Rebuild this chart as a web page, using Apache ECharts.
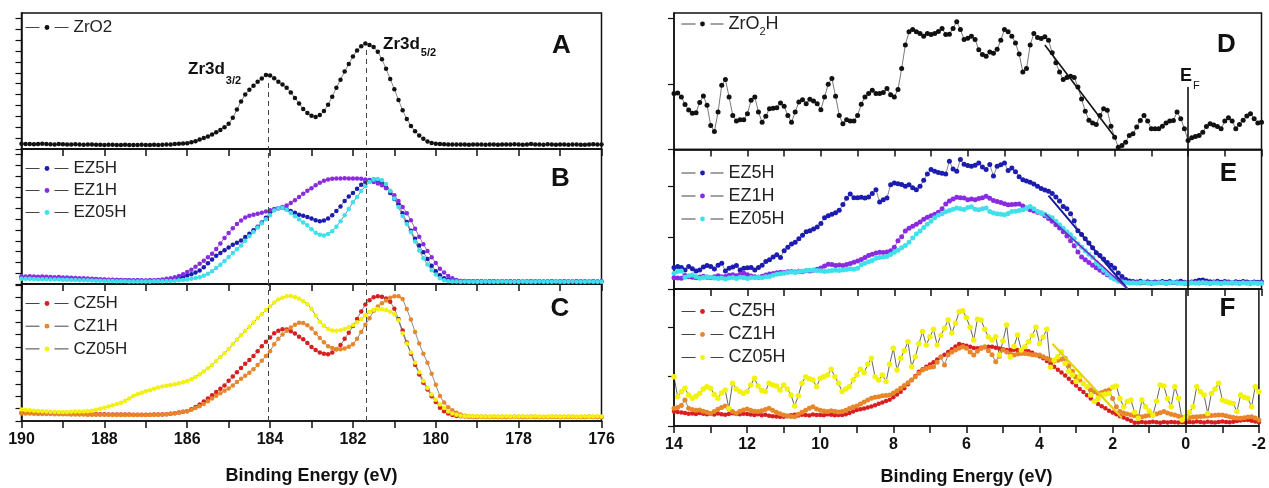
<!DOCTYPE html>
<html><head><meta charset="utf-8">
<script src="https://cdn.jsdelivr.net/npm/echarts@6/dist/echarts.min.js"></script>
<style>html,body{margin:0;padding:0;background:#fff}#c{width:1269px;height:488px}</style>
</head><body><div id="c"></div>
<script>
// ---------- sampling grids ----------
const leftStart = 190;   // left column: 190.0 -> 176.0 eV, 0.1 eV step (141 pts)
const rightStart = 14;   // right column: 14.0 -> -2.0 eV, 0.1 eV step (161 pts)
const step = 0.1;
const leftTickLabels = [190,188,186,184,182,180,178,176];
const rightTickLabels = [14,12,10,8,6,4,2,0,-2];

// ---------- panel A : Zr3d, ZrO2 ----------
const zro2 = [3.8,3.6,3.7,3.5,3.6,3.8,3.6,3.5,3.4,3.6,
 3.5,3.3,3.4,3.5,3.3,3.2,3.4,3.3,3.1,3.2,
 3.0,3.2,3.1,3.0,2.9,3.1,3.0,2.9,3.0,3.1,
 2.9,3.0,3.1,3.0,3.2,3.3,3.4,3.6,3.8,4.0,
 4.3,4.9,5.7,7.0,8.0,9.2,10.6,12.3,14.0,16.0,
 18.5,23,29,35,40,43.5,46.5,49.5,51.8,54.5,
 54,52,49.5,47.5,45,41.5,37.5,33.5,29.5,26.5,
 24.5,23.5,25,28,32.5,38.5,45,51,57,62.5,
 68,72.5,75.5,77.5,76.5,75,71.5,66,59,51.5,
 44,36,28.5,22,17,13,10,7.5,5.5,4.5,
 3.8,3.6,3.5,3.4,3.4,3.3,3.4,3.3,3.2,3.3,
 3.4,3.3,3.2,3.4,3.3,3.2,3.3,3.4,3.3,3.5,
 3.3,3.2,3.4,3.6,3.4,3.3,3.2,3.5,3.3,3.2,
 3.4,3.3,3.2,3.3,3.4,3.2,3.1,3.3,3.5,3.4,
 3.3];

// ---------- panel B ----------
const ez5hL = [4.5,4.4,4.3,4.4,4.2,4.1,4.2,4.0,3.9,4.0,
 3.8,3.7,3.8,3.6,3.5,3.6,3.4,3.3,3.4,3.2,
 3.1,3.0,2.9,3.0,2.8,2.7,2.8,2.6,2.7,2.6,
 2.5,2.6,2.5,2.7,2.8,3.0,3.3,3.8,4.4,5.2,
 6.3,7.3,8.5,10,12.5,15.3,18.2,21,23,25,
 27,29,30.5,32.3,34.8,37.3,39.8,42.5,45.5,49,
 53.4,55,56.2,56.4,55.4,54,52.8,51.3,50.5,49.7,
 48.5,47.2,46.5,47,48.5,51,54,57.5,61.5,64.8,
 67.5,70.5,73.5,75.7,77,77.5,76.5,74.5,71.5,67.5,
 63,59,52.5,46,39.5,33.6,28.5,23.6,18.5,13.5,
 9.5,6.5,4.2,3.2,2.7,2.4,2.3,2.2,2.1,2.1,
 2.0,2.1,1.9,2.0,2.1,1.9,2.0,1.8,2.0,1.9,
 2.0,1.9,1.8,2.0,1.9,2.1,1.9,1.8,2.0,1.9,
 1.8,2.0,1.9,1.8,2.0,1.9,1.8,1.9,2.0,1.8,
 1.9];
const ez1hL = [5.8,5.6,5.7,5.5,5.4,5.5,5.3,5.2,5.0,5.1,
 4.9,4.8,4.6,4.5,4.3,4.2,4.0,3.8,3.7,3.5,
 3.4,3.2,3.1,3.0,2.9,2.8,2.7,2.6,2.7,2.6,
 2.6,2.7,2.8,3.0,3.3,3.8,4.3,5.0,6.0,7.3,
 8.8,10.5,12.7,15,17.3,19.8,22.5,26,30,34,
 37.8,41.3,44.5,47,49.2,50.5,51.3,52,52.8,53.7,
 54.6,55.5,56.2,57,58.2,60,62,64.5,66.8,69,
 71,73.2,75,76.5,77.5,78,78.2,78.2,78.3,78.2,
 78.2,78.2,78,77.5,76.8,75.5,74.5,73.2,71,68.5,
 65.8,61.5,57,52.5,47.2,41,35,29.5,24.5,19.8,
 15.5,11.3,8.5,6,4.3,3.0,2.2,1.9,1.8,1.8,
 1.7,1.8,1.9,1.7,1.8,1.7,1.9,1.8,1.7,1.8,
 1.9,1.7,1.8,1.7,1.9,1.8,1.7,1.8,1.9,1.7,
 1.8,1.7,1.9,1.8,1.7,1.8,1.9,1.7,1.8,1.7,
 1.8];
const ez05hL = [3.9,3.8,3.8,3.7,3.6,3.6,3.5,3.4,3.4,3.3,
 3.2,3.1,3.0,2.9,2.8,2.8,2.7,2.6,2.5,2.4,
 2.3,2.2,2.2,2.1,2.0,2.0,1.9,1.9,1.9,1.9,
 1.9,1.9,2.0,2.0,2.1,2.2,2.3,2.5,2.7,3.0,
 3.4,3.8,4.4,5,6.2,7.6,9.4,11.8,14.3,17,
 20,23,25.8,28.6,32,35.3,38.5,41.8,45,48,
 51,54.5,56.2,56.4,55,52.8,50.2,47.8,45.5,43.5,
 40.5,38,36.5,36,37,39,42.5,46.5,51,55.5,
 60.5,64.5,68.8,72.5,75.5,77.5,77.8,76.8,74,69,
 63.3,57,50.3,44.5,38.5,31.5,24.8,19,14.5,10.2,
 7,4.2,2.8,2.2,1.9,1.8,1.7,1.8,1.7,1.6,
 1.7,1.6,1.8,1.7,1.6,1.7,1.8,1.6,1.7,1.6,
 1.7,1.8,1.6,1.7,1.6,1.8,1.7,1.6,1.7,1.8,
 1.6,1.7,1.6,1.8,1.7,1.6,1.7,1.8,1.6,1.7,
 1.7];

// ---------- panel C ----------
const cz5hL = [6,5.9,5.8,5.8,5.7,5.6,5.6,5.5,5.5,5.4,
 5.3,5.3,5.2,5.2,5.1,5.1,5.0,5.0,4.9,4.9,
 4.9,4.8,4.8,4.8,4.7,4.7,4.7,4.6,4.6,4.6,
 4.6,4.6,4.7,4.7,4.8,5.0,5.3,5.7,6.2,6.7,
 7.2,8.5,10.2,12,14.2,16.5,18.8,21.2,23.5,26,
 29.3,32.5,35.5,38.6,41.7,44.5,47.5,51,54.5,57.8,
 61,64,65.8,67,66.7,65.5,63.8,61.5,59.7,57,
 54,51.8,50,49,48.7,50,52.4,55.5,60,64.5,
 69.3,74.5,80,85,88.2,90.3,91,90.7,89.5,87,
 82,74.4,66,57.3,49,41,34,28,23,18,
 13.8,9.7,7.2,5.4,4.3,3.7,3.4,3.2,3.1,3.0,
 3.0,3.1,2.9,3.0,3.1,2.9,3.0,3.0,2.9,3.1,
 3.0,2.9,3.0,3.1,2.9,3.0,2.9,3.0,3.1,3.0,
 2.9,3.0,3.1,2.9,3.0,3.0,2.9,3.1,3.0,2.9,
 3.0];
const cz1hL = [5.5,5.4,5.4,5.3,5.2,5.2,5.1,5.1,5.0,5.0,
 4.9,4.9,4.8,4.8,4.7,4.7,4.6,4.6,4.6,4.5,
 4.5,4.5,4.4,4.4,4.4,4.3,4.3,4.3,4.3,4.3,
 4.3,4.4,4.5,4.6,4.8,5.0,5.3,5.7,6.2,6.7,
 7.2,8.2,9.4,10.8,12.5,14.4,16.4,18.4,20.3,22,
 23.8,26,28.4,30.8,33,35.3,37.7,40.8,44,47.5,
 51,56,60,63.2,65.8,68.3,70.3,71.8,71.5,69.8,
 67.5,64,60.5,57.5,54.5,53.2,52.6,52.4,53,54.2,
 56,60,65,70.3,75,80.4,83.5,86,88,90,
 91,91,89,81.7,74,65,56.5,49,42.6,34.5,
 26.5,18.2,13.5,10,7.8,6,4.8,3.9,3.4,3.2,
 3.1,3.0,3.1,3.0,2.9,3.0,3.1,3.0,2.9,3.0,
 3.1,3.0,2.9,3.0,3.1,3.0,2.9,3.0,3.0,3.1,
 3.0,2.9,3.0,3.1,3.0,2.9,3.0,3.1,3.0,2.9,
 3.0];
const cz05hL = [8.4,8.0,7.8,7.5,7.3,7.1,7.0,6.8,6.7,6.6,
 6.5,6.6,6.8,7.0,7.0,6.9,7.1,7.5,8.2,8.9,
 9.7,10.5,11.5,12.4,13.3,14.8,16.5,18.2,19.5,20.7,
 21.7,22.5,23.5,24.5,25.2,25.8,26.3,26.8,27.5,28.3,
 29.2,30.5,32.2,34,36.2,38.5,40.8,43.8,46.8,49.5,
 52.5,56,59.5,62.7,65.8,68.8,71.9,75,78,81,
 83.5,86.5,88.6,90,91,91.2,90.6,89.2,87.5,85.3,
 82,77,72.5,69.5,67.2,66,65.8,66.3,67.2,68.5,
 70,72,74.5,77.2,79.5,81.2,81.7,81.6,81,79.8,
 78,73.5,64,56.5,50,42.5,35.5,29.2,24,19.4,
 15.5,12,9.4,7,5.4,4.5,3.9,3.5,3.4,3.3,
 3.4,3.3,3.2,3.3,3.4,3.2,3.3,3.4,3.3,3.2,
 3.3,3.4,3.2,3.3,3.4,3.3,3.2,3.3,3.4,3.3,
 3.2,3.3,3.4,3.3,3.2,3.3,3.4,3.2,3.3,3.4,
 3.3];

// ---------- panel D : valence band, ZrO2H ----------
const zro2h = [41,41.4,38.5,33,29,26.5,27,34.5,39.2,32.4,
 17.6,13.2,27.4,47,51.2,38.5,25,20.8,21.8,21.8,
 26.2,36,38.5,27.4,20,24.3,29.9,30.2,30.6,34,
 31.6,25,20,27.4,34.8,36.5,33.6,36.8,35.5,33.6,
 29.2,38.5,47.8,52,39,25,18.9,21.8,20.8,20.8,
 25,33.1,38.5,41,43.4,41,41,41.7,44.6,40.2,
 38.5,43.9,59.3,76.5,86.3,88,86.3,85,83,85,
 84.3,85,86.5,88.7,84.3,84.5,88.7,93.6,88,80.6,
 81.5,83,80.5,73,69.6,68.4,71.5,70.5,73.5,80,
 88,86.3,83,78,69.9,56.8,59.3,76.5,85,82.1,
 81.4,82.6,80.1,70.8,63.5,56.8,51.2,52.7,53.7,52.7,
 45.8,37,28,21.5,19.5,18.4,25,29.9,28.7,17,
 9,1.7,2.9,5.4,10.3,11.5,16.4,21.3,25,20.8,
 15.2,15.2,15.2,17,19.4,20.8,21.3,27.4,22.6,15.2,
 6.6,8.6,9.6,10.3,12.7,16.9,18.9,17.9,16.9,15.2,
 20.8,23.3,20.8,15.2,18.4,21.5,24.5,26.2,22.6,19.4,
 20];
const fitD = [[3.9,76.5],[1.95,7.5]];

// ---------- panel E ----------
const ez5hR = [15.4,16.2,15.5,13.7,16.1,14.5,12.9,13.7,15.8,16.8,
 16.1,14.4,17,18.5,12.9,14.9,15.8,16.8,13.7,14.9,
 15.2,15.4,13.7,15.5,17,19.7,20.9,23,24.5,22.6,
 27.5,30,32.2,33.6,36,38.5,41,41.7,43,44.5,
 47,51,52.5,53.5,54.6,56.5,60.5,65,68.1,65.5,
 65.5,65.7,65.2,66,68.5,71.2,62.4,64,65.2,74.8,
 76,75.5,75,73.6,74.8,72.5,71.2,73.6,78,82.5,
 85.6,84.4,83.5,83,82.5,91.6,86,84.4,92.8,89.5,
 88.5,88,88.7,90.4,87.5,85.6,89.2,81,88,89,
 90.4,84.9,86.8,84,80.5,78.4,77.5,76.5,75.3,73.6,
 72,71,70,68.5,66,63,59.2,57.5,54,49,
 41.7,39,36,33,29.5,26,24,21.5,19,17,
 15,11.5,9,6.8,5.8,5.3,5.0,5.5,4.8,5.2,
 4.6,5.1,4.7,5.4,4.9,5.3,4.6,5.0,5.5,4.8,
 4.5,5.0,5.6,6.2,6.5,5.8,5.2,5.0,5.5,4.8,
 5.3,5.0,4.6,5.2,4.8,5.4,5.0,4.7,5.1,4.8,
 5.0];
const ez1hR = [8.1,7.9,7.7,9.6,8.8,8.5,8.0,8.6,9.2,8.4,
 8.0,8.8,9.5,8.7,9.0,9.8,10.2,9.5,10.5,11.3,
 10.2,9.4,8.8,8.5,9.2,10,10.8,11.2,11.7,12,
 11.8,12.3,12.5,12.2,12.8,12.4,13,12.9,13.5,14.2,
 15,16.5,17.8,17.5,16.8,17.2,16.8,17.5,18.3,19.2,
 20,21.2,22.5,24,25,25.8,26.4,26.2,26.6,27.5,
 30,34.5,37.5,41.5,43.5,45,46.5,48,50,51.5,
 52.5,53.5,55,57.5,61,63,64.5,65.7,65.5,65.2,
 64,64.5,64,64.8,65.5,66.4,65,63.5,62.8,62,
 61.2,60.4,60.5,60.8,60.9,59.5,58,56.8,56,55,
 54.4,52.5,50.5,48.5,46,43.7,41,38,34.5,31,
 26.5,23,21,19,17,15.2,13.5,11.8,10.2,8.6,
 7.3,6.2,5.6,5.0,4.8,4.5,4.6,4.3,4.7,4.4,
 4.2,4.6,4.8,4.4,4.2,4.5,4.7,4.3,4.5,4.2,
 4.0,4.4,4.6,4.3,4.8,4.5,4.2,4.6,4.4,4.1,
 4.5,4.7,4.3,4.5,4.2,4.6,4.4,4.1,4.5,4.3,
 4.4];
const ez05hR = [11.3,12.5,12.9,8.5,9.5,10.1,8.8,7.7,8.2,8.7,
 8.5,7.8,7.5,7.9,7.2,7.8,8.2,7.6,8.5,8.0,
 7.6,8.3,8.1,8.6,8.0,8.7,9.0,9.8,10.5,11,
 11.3,11.8,12.2,11.9,12.5,12.8,13.2,13.5,13.7,13.2,
 13,12.6,12.9,13.3,13.5,13.2,13.7,14,14.5,14.2,
 14.9,17.3,18.5,19.5,20.5,22.1,22.5,23,23.3,24.8,
 26.3,27.8,29.5,31.2,33.5,36.5,39.4,41.5,44,46.5,
 48.5,51,52.8,54,55.4,56.3,57.2,58,57.5,57,
 58.5,59,57.2,56.8,57.5,58,55.5,54.4,54,53.5,
 53.2,54.2,55.6,55.8,56.2,56.8,57.8,59.2,57.5,55.5,
 54.4,53.5,52.2,51,48.5,46,43.5,41,38.8,36,
 32.5,30,27.5,25,22.5,19,16.1,13.5,11,8.5,
 7,5.6,5.0,4.6,4.3,4.5,4.2,4.6,4.8,4.3,
 4.5,4.1,4.4,4.6,4.2,4.5,4.8,4.4,4.1,4.3,
 4.1,4.5,4.2,4.4,4.7,4.3,4.1,4.5,4.3,4.0,
 4.4,4.2,4.6,4.3,4.1,4.4,4.2,4.5,4.3,4.1,
 4.2];
const fitE5 = [[3.8,67],[1.65,0]];
const fitE1 = [[3.9,54],[1.65,0]];

// ---------- panel F ----------
const cz5hR = [10.5,10.2,9.8,9.4,9.0,9.2,8.8,9.5,9.0,8.6,
 8.9,8.4,9.1,8.6,8.2,8.8,9.3,8.7,8.5,9.0,
 8.8,8.4,8.0,8.6,7.8,8.2,7.5,7.2,7.0,6.8,
 6.8,7.2,7.8,8.2,7.6,8.3,8.0,7.7,8.4,8.1,
 8.0,7.8,8.5,8.2,7.9,8.1,8.0,8.6,9.5,10.5,
 11.7,12.2,12.8,13.5,14.3,15.2,16.2,17.2,18.2,19.2,
 21,23,25,27.5,30.5,33.5,36.5,39.6,41.5,43.2,
 44.8,46.5,48.6,50.5,52,54,56,58,59.9,59.1,
 58.5,57.8,57,56.7,57.2,57.5,57.9,57.8,57.2,56.5,
 56,55.5,55.4,55.6,55.5,55.5,55.3,54.5,53.5,52,
 51,49.5,47.5,45.5,43.3,41,39,36.8,34.5,32,
 29.5,27,24.8,22.5,20,17.8,16,14.5,13,11.2,
 9.8,8.5,7.2,6.2,5,3.8,2.4,2.6,2.9,2.5,
 2.8,3.1,2.7,2.4,2.9,2.6,3.0,2.7,2.5,2.8,
 2.6,3.0,2.7,3.2,2.9,2.6,3.1,2.8,2.5,2.9,
 3.3,3.0,2.7,3.1,3.6,4.0,4.3,4.4,3.8,3.2,
 2.8];
const cz1hR = [12.9,13.5,15,19,12.9,12,11.5,11.7,10.8,10,
 9.2,10.5,12.2,13.5,14.6,12.5,10.5,9.2,10.8,11.6,
 12.4,11.5,10.8,10.5,11.2,12,12.9,11.5,10,9,
 8,7.5,7,6.8,8.5,10,11.5,13,14.1,12.5,
 11.5,11,10.5,11.2,10.8,10.2,10.5,11.5,12.8,13.8,
 14.6,16,17.5,19,20.2,21,21.4,22,22.3,22.6,
 24,25.8,27.5,29.5,31.5,33.6,36,38.5,40.9,42,
 42.8,43.3,46.5,50.1,44.5,52,54,55.5,56.8,57.9,
 56.7,54,51.8,54.5,56.5,57.9,55,52,46.9,51,
 55.5,54,52.5,51.8,52.5,53,53,52.5,52,51.8,
 51.8,50.5,49.2,48.2,47.5,48,48.8,49.4,44,40,
 36,33.5,31,28.7,26.5,25,23.8,24.5,25.5,26.3,
 20,14,10.5,9.5,8.8,8,7.5,7.0,6.8,7.3,
 7.8,8,8.8,9.6,10.5,9.5,8.6,8,7.2,6.3,
 5.6,6.0,6.5,6.8,7.0,7.2,7.3,7.6,7.8,8.0,
 8.0,7.4,6.8,6.2,5.9,5.6,6.0,6.5,6.8,5.8,
 4.4];
const cz05hR = [36,21.4,25,27.5,22.6,20.2,21.8,23.8,27,28.7,
 27.5,23,20.2,24,26.3,12.9,31.2,27,25.1,23.8,
 25.1,30,34.8,29.2,26,25.1,31.2,30,29.2,26.3,
 30,27,22.6,14.6,22,31.2,36,34.5,33.6,28.7,
 34.8,36,37.2,41.4,36,31.2,25.1,27,28.7,33.6,
 37.2,41.4,38.9,45,49.4,36,33.6,37.2,32.4,45,
 56.7,40.9,49.4,55,61.5,43.3,50.6,60,68.9,59.1,
 65.2,70.6,59.1,66,71.3,77.4,67.9,75,83.4,84.2,
 79,72,62.8,78,77.4,70.6,65,62.8,65.2,51.8,
 62,73.7,50.6,58,66.4,55.5,57.9,61.5,66,72,
 60.3,65,70.6,42.8,48,50.6,54.2,45.7,40,37.2,
 32.4,36,31,28.7,22.6,17.8,20,22.6,23.2,23.8,
 28.2,29.2,20,14.1,17.8,19,10,5.6,19,14.1,
 11,8,18,29.9,29.2,20,14.1,28.7,20.2,4.4,
 6.8,10,14.1,28.7,25,22.6,9.2,23.8,27,31.2,
 19,17.8,17,16.5,10.5,22.6,21,20.2,14.1,28.7,
 25];
const fitF = [[3.65,60],[1.75,6]];

// reference lines
const zrPeaks = [184.05, 181.68];     // Zr3d3/2, Zr3d5/2
const zrPeakTops = [48.5, 72.8];
const fermi = 0;

// ---------- layout ----------
const FONT = '"Liberation Sans", Arial, sans-serif';
const grids = [
  {left:21.5, top:13, width:580, height:136},
  {left:21.5, top:149, width:580, height:135},
  {left:21.5, top:284, width:580, height:137},
  {left:674, top:13, width:587.5, height:136.5},
  {left:674, top:149.5, width:587.5, height:139.5},
  {left:674, top:289, width:587.5, height:137}
];
const yTickStep = [8, 8, 9, 48, 37, 36];

function ticks(st){ const a=[]; for(let v=0; v<100-0.01; v+=st) a.push(v); return a; }

function pairs(start, vals){ return vals.map((v,k)=>[Math.round((start - k*step)*10)/10, v]); }

function mk(name, vals, start, gi, color, size, lw, lc){
  return {type:'line', name, xAxisIndex:gi, yAxisIndex:gi, data:pairs(start, vals),
    symbol:'circle', symbolSize:size, showSymbol:true, itemStyle:{color},
    lineStyle:{color:lc||'#3a3a3a', width:lw||0.6}, emphasis:{disabled:true},
    animation:false, silent:true};
}
function fit(name, pts, gi, color, w){
  return {type:'line', name, xAxisIndex:gi, yAxisIndex:gi, data:pts, symbol:'none',
    lineStyle:{color, width:w}, z:5, silent:true, animation:false};
}
const dashML = {silent:true, symbol:'none', animation:false, label:{show:false},
  lineStyle:{type:[5,4], color:'#444', width:1}};
const fermiML = {silent:true, symbol:'none', animation:false, label:{show:false},
  lineStyle:{type:'solid', color:'#111', width:1.6}};

const C = {zr:'#111111', e5:'#1c1cb0', e1:'#8a2be2', e05:'#3fe0ea', c5:'#d81e1e', c1:'#e8862a', c05:'#f2f20a'};

const sA = mk('ZrO2', zro2, leftStart, 0, C.zr, 4.5);
sA.markLine = Object.assign({}, dashML, {data: zrPeaks.map((x,k)=>[{coord:[x, zrPeakTops[k]]},{coord:[x,0]}])});
const sB = mk('EZ5H', ez5hL, leftStart, 1, C.e5, 4.5);
sB.markLine = Object.assign({}, dashML, {data: zrPeaks.map(x=>({xAxis:x}))});
const sC = mk('CZ5H', cz5hL, leftStart, 2, C.c5, 4.5);
sC.markLine = Object.assign({}, dashML, {data: zrPeaks.map(x=>({xAxis:x}))});
const sD = mk('ZrO2H', zro2h, rightStart, 3, C.zr, 5, 0.8, '#555');
sD.markLine = Object.assign({}, fermiML, {data:[[{coord:[fermi,45.8]},{coord:[fermi,0]}]]});
const sE = mk('EZ5H', ez5hR, rightStart, 4, C.e5, 5);
sE.markLine = Object.assign({}, fermiML, {data:[{xAxis:fermi}]});
const sF = mk('CZ5H', cz5hR, rightStart, 5, C.c5, 4.5);
sF.markLine = Object.assign({}, fermiML, {data:[{xAxis:fermi}]});

const series = [
  sA,
  sB, mk('EZ1H', ez1hL, leftStart, 1, C.e1, 4.5), mk('EZ05H', ez05hL, leftStart, 1, C.e05, 4.5),
  sC, mk('CZ1H', cz1hL, leftStart, 2, C.c1, 4.5), mk('CZ05H', cz05hL, leftStart, 2, C.c05, 4.5),
  sD, fit('fitD', fitD, 3, '#111', 1.6),
  sE, mk('EZ1H', ez1hR, rightStart, 4, C.e1, 5), mk('EZ05H', ez05hR, rightStart, 4, C.e05, 5),
  fit('fitE5', fitE5, 4, '#1c1c9a', 2), fit('fitE1', fitE1, 4, '#7a22c8', 1.6),
  sF, mk('CZ1H', cz1hR, rightStart, 5, C.c1, 5), mk('CZ05H', cz05hR, rightStart, 5, C.c05, 5.5, 0.7, '#222'),
  fit('fitF', fitF, 5, '#e8d000', 2)
];

const legBase = (fs) => ({orient:'vertical', itemWidth:43, itemHeight:6, padding:0, selectedMode:false,
  textStyle:{fontSize:fs, color:'#222', fontFamily:FONT},
  lineStyle:{type:[14,15], width:1, color:'#444'}});

const legends = [
  Object.assign(legBase(17), {data:['ZrO2'], left:25, top:19}),
  Object.assign(legBase(17), {data:['EZ5H','EZ1H','EZ05H'], left:25, top:160, itemGap:5}),
  Object.assign(legBase(17), {data:['CZ5H','CZ1H','CZ05H'], left:25, top:295, itemGap:5.7}),
  Object.assign(legBase(18), {data:['ZrO2H'], left:681, top:15, itemWidth:42,
     formatter: ()=> 'ZrO{s|2}H',
     textStyle:{fontSize:18, color:'#222', fontFamily:FONT, rich:{s:{fontSize:11, color:'#222', fontFamily:FONT, padding:[16,0,0,0]}}}}),
  Object.assign(legBase(18), {data:['EZ5H','EZ1H','EZ05H'], left:681, top:164, itemGap:5, itemWidth:42}),
  Object.assign(legBase(18), {data:['CZ5H','CZ1H','CZ05H'], left:681, top:302.5, itemGap:5, itemWidth:42})
];

function letter(t, x, y){
  return {type:'text', x, y, z:20, style:{text:t, fontSize:26, fontWeight:'bold', fontFamily:FONT, fill:'#111',
    align:'center', verticalAlign:'middle', textAlign:'center', textVerticalAlign:'middle'}};
}
function subText(main, sub, x, y, fs, sfs, off, subBold){
  return {type:'text', x, y, z:20, style:{text:'{a|'+main+'}{b|'+sub+'}', fill:'#111',
    align:'left', verticalAlign:'middle', textAlign:'left', textVerticalAlign:'middle',
    rich:{a:{fontSize:fs, fontWeight:'bold', fontFamily:FONT, fill:'#111', color:'#111'},
          b:{fontSize:sfs, fontWeight:subBold?'bold':'normal', fontFamily:FONT, fill:'#111', color:'#111', padding:[off*2,0,0,1]}}}};
}

const option = {
  animation:false,
  backgroundColor:'#fff',
  grid: grids.map(g=>Object.assign({show:true, borderColor:'#111', borderWidth:1.5, backgroundColor:'transparent', containLabel:false}, g)),
  xAxis: grids.map((g,i)=>{
    const L = i<3, bottom = (i===2||i===5);
    return {type:'value', gridIndex:i, inverse:true, min:L?176:-2, max:L?190:14, interval:1,
      axisLine:{show:true, onZero:false, lineStyle:{color:'#111', width:1.5}},
      axisTick:{show:true, inside:false, length:7, lineStyle:{color:'#111', width:1.5}},
      axisLabel:{show:bottom, margin:11, color:'#111', fontSize:16, fontWeight:'bold', fontFamily:FONT,
        formatter: v => (L?leftTickLabels:rightTickLabels).includes(v) ? String(v) : ''},
      splitLine:{show:false},
      name: bottom ? 'Binding Energy (eV)' : '', nameLocation:'middle', nameGap: L?46:42,
      nameTextStyle:{fontSize:18, fontWeight:'bold', color:'#111', fontFamily:FONT}};
  }),
  yAxis: grids.map((g,i)=>({type:'value', gridIndex:i, min:0, max:100, interval:yTickStep[i],
    axisLine:{show:true, onZero:false, lineStyle:{color:'#111', width:1.5}},
    axisTick:{show:true, inside:false, length:6, lineStyle:{color:'#111', width:1.2}, customValues:ticks(yTickStep[i])},
    axisLabel:{show:false}, splitLine:{show:false}})),
  legend: legends,
  series,
  graphic: [
    letter('A', 561.5, 46), letter('B', 560.5, 179), letter('C', 560, 308.5),
    letter('D', 1226.5, 44.5), letter('E', 1228.5, 174), letter('F', 1227.5, 309),
    subText('Zr3d', '3/2', 188, 69, 17, 11, 12, true),
    subText('Zr3d', '5/2', 383, 44.5, 17, 11, 8.5, true),
    subText('E', 'F', 1180, 76, 18, 11, 10, false)
  ]
};
const chart = echarts.init(document.getElementById('c'), null, {renderer:'canvas'});
chart.setOption(option);
</script></body></html>
